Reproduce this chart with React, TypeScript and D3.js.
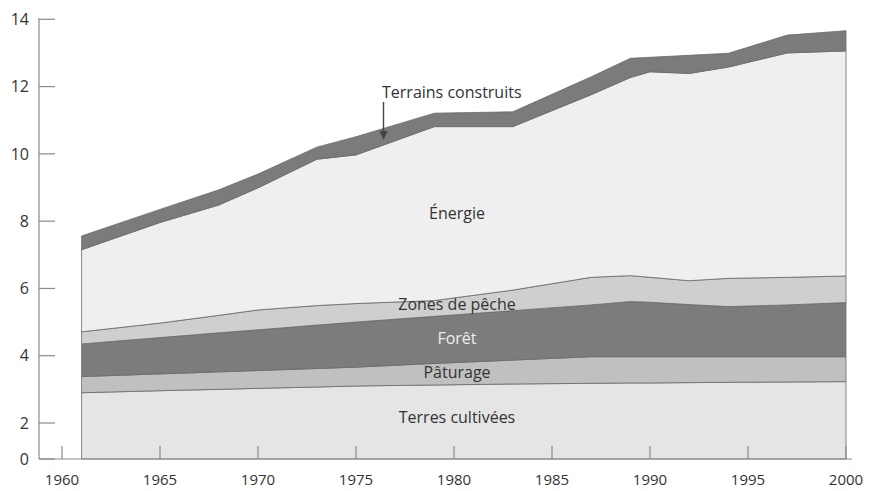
import React from "react";
import * as d3 from "d3";

const years = [1961, 1965, 1968, 1970, 1973, 1975, 1979, 1983, 1987, 1989, 1990, 1992, 1994, 1997, 2000];
const terresCultivees = [2.90, 2.96, 3.00, 3.03, 3.07, 3.10, 3.13, 3.16, 3.18, 3.19, 3.19, 3.20, 3.21, 3.22, 3.23];
const paturage = [0.48, 0.50, 0.52, 0.53, 0.55, 0.56, 0.64, 0.71, 0.79, 0.78, 0.78, 0.77, 0.76, 0.75, 0.74];
const foret = [0.97, 1.08, 1.16, 1.21, 1.29, 1.34, 1.40, 1.47, 1.54, 1.64, 1.62, 1.55, 1.49, 1.54, 1.61];
const zonesPeche = [0.36, 0.43, 0.52, 0.59, 0.58, 0.55, 0.47, 0.61, 0.82, 0.77, 0.74, 0.71, 0.84, 0.82, 0.79];
const energie = [2.44, 2.99, 3.28, 3.63, 4.35, 4.42, 5.17, 4.86, 5.43, 5.89, 6.11, 6.16, 6.28, 6.67, 6.69];
const terrainsConstruits = [0.41, 0.39, 0.45, 0.41, 0.36, 0.54, 0.40, 0.44, 0.53, 0.57, 0.43, 0.54, 0.41, 0.53, 0.60];

const yTicks = [0, 2, 4, 6, 8, 10, 12, 14];
const xTicks = [1960, 1965, 1970, 1975, 1980, 1985, 1990, 1995, 2000];

const keys = ["cult", "pat", "for", "pec", "ene", "con"];
const fills: Record<string, string> = {
  cult: "#e5e5e5",
  pat: "#c0c0c0",
  for: "#7c7c7c",
  pec: "#cfcfcf",
  ene: "#efefef",
  con: "#7b7b7b",
};

export default function App() {
  const W = 869, H = 491;
  const x = d3.scaleLinear().domain([1960, 2000]).range([62, 846]);
  const y = d3.scaleLinear().domain([0, 2, 14]).range([459, 423, 19.3]);

  const rows = years.map((yr, i) => ({
    year: yr,
    cult: terresCultivees[i],
    pat: paturage[i],
    for: foret[i],
    pec: zonesPeche[i],
    ene: energie[i],
    con: terrainsConstruits[i],
  }));
  const series = d3.stack<any>().keys(keys)(rows);
  const area = d3
    .area<any>()
    .x((d) => x(d.data.year))
    .y0((d) => y(d[0]))
    .y1((d) => y(d[1]));

  const font = "'Open Sans', sans-serif";
  const axisColor = "#8a8a8a";
  const textColor = "#333";

  return (
    <svg width={W} height={H} style={{ position: "absolute", left: 0, top: 0, background: "#fff" }} fontFamily={font}>
      {series.map((s) => (
        <path key={s.key} d={area(s) || ""} fill={fills[s.key]} stroke="#6a6a6a" strokeWidth={0.8} strokeLinejoin="round" />
      ))}
      {/* y axis */}
      <line x1={39} x2={39} y1={y(14) - 1} y2={y(0)} stroke={axisColor} strokeWidth={1.2} />
      {yTicks.map((t) => (
        <g key={t}>
          <line x1={39} x2={55} y1={y(t)} y2={y(t)} stroke={axisColor} strokeWidth={1.2} />
          <text x={29} y={y(t)} dy="0.36em" textAnchor="end" fontSize={16} fill={textColor}>
            {t}
          </text>
        </g>
      ))}
      {/* x axis */}
      <line x1={39} x2={852} y1={y(0)} y2={y(0)} stroke={axisColor} strokeWidth={1.2} />
      {xTicks.map((t) => (
        <g key={t}>
          <line x1={x(t)} x2={x(t)} y1={y(0) - 13} y2={y(0)} stroke={axisColor} strokeWidth={1.2} />
          <text x={x(t)} y={485} textAnchor="middle" fontSize={15} fill={textColor}>
            {t}
          </text>
        </g>
      ))}
      {/* labels */}
      <text x={382} y={98} fontSize={16} fill={textColor}>Terrains construits</text>
      <line x1={383.5} x2={383.5} y1={102} y2={134} stroke="#444" strokeWidth={1.4} />
      <path d="M379.5,131 L387.5,131 L383.5,140 Z" fill="#444" />
      <text x={457} y={213} dy="0.35em" textAnchor="middle" fontSize={16} fill={textColor}>Énergie</text>
      <text x={457} y={304} dy="0.35em" textAnchor="middle" fontSize={16} fill={textColor}>Zones de pêche</text>
      <text x={457} y={338} dy="0.35em" textAnchor="middle" fontSize={16} fill="#eeeeee">Forêt</text>
      <text x={457} y={372} dy="0.35em" textAnchor="middle" fontSize={16} fill={textColor}>Pâturage</text>
      <text x={457} y={417} dy="0.35em" textAnchor="middle" fontSize={16} fill={textColor}>Terres cultivées</text>
    </svg>
  );
}
